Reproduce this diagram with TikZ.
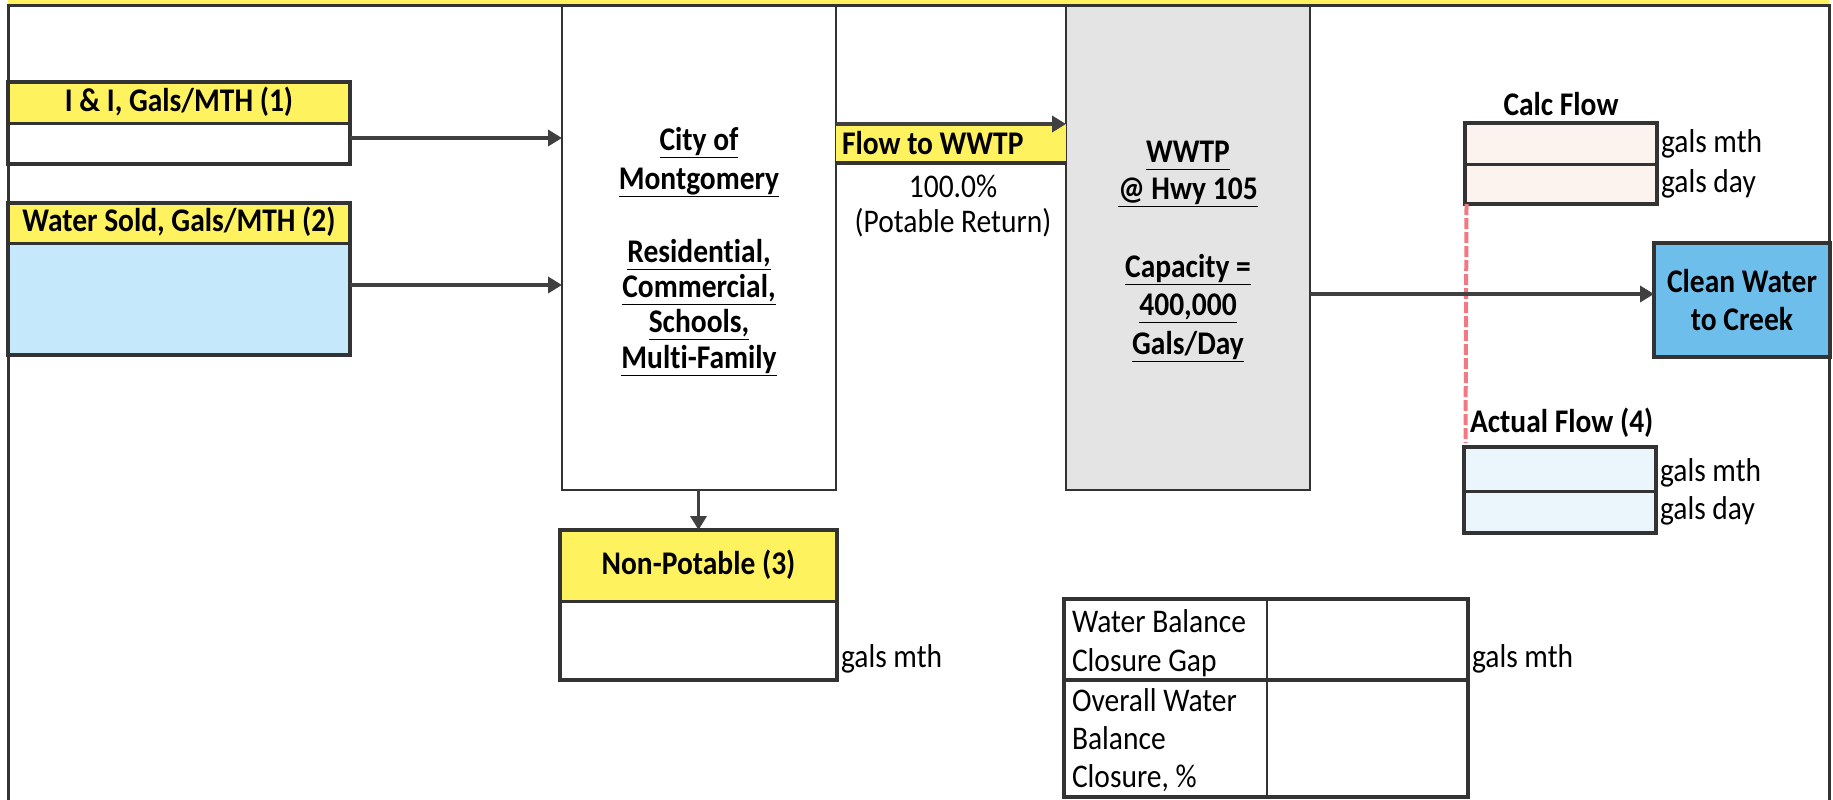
\documentclass[tikz,border=0pt]{standalone}
\usepackage{graphicx}
\usepackage{fontspec}
\setmainfont{Carlito}[Ligatures=NoCommon]
\usetikzlibrary{arrows.meta}
\definecolor{ylw}{RGB}{255,242,95}
\definecolor{skyb}{RGB}{197,232,250}
\definecolor{peach}{RGB}{253,243,238}
\definecolor{paleb}{RGB}{234,245,252}
\definecolor{creek}{RGB}{110,190,236}
\definecolor{wgray}{RGB}{228,228,228}
\definecolor{edge}{RGB}{51,51,51}
\definecolor{arr}{RGB}{64,64,64}
\definecolor{dashred}{RGB}{242,120,132}
\newcommand\myul[1]{\underline{#1\vphantom{gy}}}
\newcommand\st[1]{\scalebox{1}[1.12]{#1}}
\begin{document}
\begin{tikzpicture}[x=1pt,y=-1pt,
  every node/.style={font=\fontsize{29.5}{35}\selectfont, inner sep=0pt, outer sep=0pt, text=black},
  cell/.style={draw=edge, line width=3pt, rectangle, text height=22pt, text depth=5pt},
  outline/.style={draw=edge, line width=4.5pt},
  thinbox/.style={draw=edge, line width=2.5pt, rectangle},
  flowarrow/.style={draw=arr, line width=3.5pt, -{Triangle[length=14pt,width=16pt]}},
  txt/.style={anchor=base},
  txtl/.style={anchor=base west},
  bold/.style={font=\fontsize{29.5}{35}\selectfont\bfseries}
]
\useasboundingbox (0,0) rectangle (1833,800);
\fill[white] (0,0) rectangle (1833,800);

% City and WWTP columns
\node[thinbox, fill=white, minimum width=274pt, minimum height=485pt] (city) at (699,247.5) {};
\node[thinbox, fill=wgray, minimum width=244pt, minimum height=485pt] (wwtp) at (1188,247.5) {};

% frame
\fill[ylw] (8,0) rectangle (1829,4.5);
\draw[edge, line width=3pt] (8,800) -- (8,5.5) -- (1829,5.5) -- (1829,800);

% I & I
\node[cell, fill=ylw, bold, minimum width=342pt, minimum height=41pt] (iih) at (179,102.5) {\st{I \& I, Gals/MTH (1)}};
\node[cell, fill=white, minimum width=342pt, minimum height=41pt] (iiv) at (179,143.5) {};
\draw[outline] (iih.north west) rectangle (iiv.south east);

% Water sold
\node[cell, fill=ylw, bold, minimum width=342pt, minimum height=40pt] (wsh) at (179,223) {\st{Water Sold, Gals/MTH (2)}};
\node[cell, fill=skyb, minimum width=342pt, minimum height=112pt] (wsv) at (179,299) {};
\draw[outline] (wsh.north west) rectangle (wsv.south east);

% arrows into city
\coordinate (a1) at ([yshift=5.5pt]iiv.east);
\draw[flowarrow] (a1) -- (a1 -| city.west);
\coordinate (a2) at ([yshift=14pt]wsv.east);
\draw[flowarrow] (a2) -- (a2 -| city.west);

% City text
\node[txt, bold] (c1) at (699,150) {\st{\myul{City of}}};
\node[txt, bold] (c2) at (699,189) {\st{\myul{Montgomery}}};
\node[txt, bold] (c3) at (699,262) {\st{\myul{Residential,}}};
\node[txt, bold] (c4) at (699,297) {\st{\myul{Commercial,}}};
\node[txt, bold] (c5) at (699,332) {\st{\myul{Schools,}}};
\node[txt, bold] (c6) at (699,368) {\st{\myul{Multi-Family}}};

% Flow to WWTP
\node[fill=ylw, minimum width=230pt, minimum height=39pt] (flowlbl) at (951,143.5) {};
\draw[edge, line width=3.5pt] (flowlbl.south west) -- (flowlbl.south east);
\node[txtl, bold] (flowtxt) at (842,154) {\st{Flow to WWTP}};
\draw[flowarrow] (flowlbl.north west) -- (flowlbl.north west -| wwtp.west);
\node[txt] (pct) at (953,197) {\st{100.0\%}};
\node[txt] (potret) at (953,232) {\st{(Potable Return)}};

% WWTP text
\node[txt, bold] (w1) at (1188,162) {\st{\myul{WWTP}}};
\node[txt, bold] (w2) at (1188,199) {\st{\myul{@ Hwy 105}}};
\node[txt, bold] (w3) at (1188,277) {\st{\myul{Capacity =}}};
\node[txt, bold] (w4) at (1188,315) {\st{\myul{400,000}}};
\node[txt, bold] (w5) at (1188,354) {\st{\myul{Gals/Day}}};

% Non-potable
\node[cell, fill=ylw, bold, minimum width=277pt, minimum height=71pt] (nph) at (698.5,565.5) {\st{Non-Potable (3)}};
\node[cell, fill=white, minimum width=277pt, minimum height=79pt] (npv) at (698.5,640.5) {};
\draw[outline] (nph.north west) rectangle (npv.south east);
\draw[flowarrow] (city.south -| nph.north) -- (nph.north);
\node[txtl] (npu) at (841,667) {\st{gals mth}};

% Calc flow
\node[txt, bold] (calclbl) at (1561,115) {\st{Calc Flow}};
\node[cell, fill=peach, minimum width=192pt, minimum height=41pt] (calc1) at (1561,143.5) {};
\node[cell, fill=peach, minimum width=192pt, minimum height=40pt] (calc2) at (1561,184) {};
\draw[outline] (calc1.north west) rectangle (calc2.south east);
\node[txtl] (cu1) at (1661,152) {\st{gals mth}};
\node[txtl] (cu2) at (1661,192) {\st{gals day}};

% Actual flow
\node[txtl, bold] (actlbl) at (1470,432) {\st{Actual Flow (4)}};
\node[cell, fill=paleb, minimum width=192pt, minimum height=44pt] (act1) at (1560,469) {};
\node[cell, fill=paleb, minimum width=192pt, minimum height=42pt] (act2) at (1560,512) {};
\draw[outline] (act1.north west) rectangle (act2.south east);
\node[txtl] (au1) at (1660,481) {\st{gals mth}};
\node[txtl] (au2) at (1660,519) {\st{gals day}};

% dashed link
\coordinate (dend) at ([xshift=1.5pt,yshift=4pt]act1.north west);
\draw[dashred, line width=4pt, dash pattern=on 11pt off 3pt] ([xshift=1.5pt]calc2.south west) -- (dend);

% Clean water
\node[draw=edge, line width=4.5pt, fill=creek, minimum width=176pt, minimum height=114pt,
      align=center, font=\fontsize{29.5}{38}\selectfont\bfseries] (clean) at (1742,300) {\st{Clean Water}\\\st{to Creek}};
\coordinate (cw) at ([yshift=6pt]clean.west);
\draw[flowarrow] (wwtp.east |- cw) -- (cw);

% balance table
\node[draw=edge, line width=2pt, minimum width=203pt, minimum height=81pt] (t11) at (1165.5,639.5) {};
\node[draw=edge, line width=2pt, minimum width=201pt, minimum height=81pt] (t12) at (1367.5,639.5) {};
\node[draw=edge, line width=2pt, minimum width=203pt, minimum height=117pt] (t21) at (1165.5,738.5) {};
\node[draw=edge, line width=2pt, minimum width=201pt, minimum height=117pt] (t22) at (1367.5,738.5) {};
\draw[edge, line width=4pt] (t11.south west) -- (t12.south east);
\draw[outline] (t11.north west) rectangle (t22.south east);
\node[txtl] (tb1) at (1072,632) {\st{Water Balance}};
\node[txtl] (tb2) at (1072,671) {\st{Closure Gap}};
\node[txtl] (tb3) at (1072,711) {\st{Overall Water}};
\node[txtl] (tb4) at (1072,749) {\st{Balance}};
\node[txtl] (tb5) at (1072,787) {\st{Closure, \%}};
\node[txtl] (tbu) at (1472,667) {\st{gals mth}};
\end{tikzpicture}
\end{document}
